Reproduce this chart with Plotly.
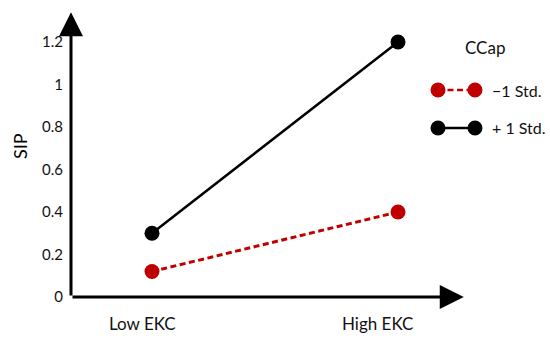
import plotly.graph_objects as go

categories = ["Low EKC", "High EKC"]
cat_pos = [1, 2]
minus_std = [0.12, 0.40]
plus_std = [0.30, 1.20]
series_names = ["\u22121 Std.", "+ 1 Std."]
y_ticks = [0, 0.2, 0.4, 0.6, 0.8, 1.0, 1.2]
y_ticklabels = ["0", "0.2", "0.4", "0.6", "0.8", "1", "1.2"]
legend_title = "CCap"
y_title = "SIP"

RED = "#C00000"
BLACK = "#000000"
FONT = "Lato, Open Sans, sans-serif"
DASH = "6px,3.5px"

W, H = 550, 343
L, R, T, B = 71, 85, 10, 46
pw, ph = W - L - R, H - T - B

def px(x):
    return (x - L) / pw

def py(y):
    return (H - B - y) / ph

fig = go.Figure()
fig.add_trace(go.Scatter(x=cat_pos, y=minus_std, mode="lines+markers", name=series_names[0],
                         line=dict(color=RED, width=3, dash=DASH),
                         marker=dict(color=RED, size=15), showlegend=False))
fig.add_trace(go.Scatter(x=cat_pos, y=plus_std, mode="lines+markers", name=series_names[1],
                         line=dict(color=BLACK, width=2.5),
                         marker=dict(color=BLACK, size=15), showlegend=False))

xr = [1 - 81 / 246, 2 + 67 / 246]
yr = [0, 287 / 212.5]

# axes with arrows
fig.add_annotation(x=xr[1] - 0.005, y=0, ax=xr[0], ay=0, xref="x", yref="y", axref="x", ayref="y",
                   showarrow=True, arrowhead=2, arrowsize=1.6, arrowwidth=3, arrowcolor=BLACK, text="")
fig.add_annotation(x=xr[0], y=yr[1] - 0.01, ax=xr[0], ay=0, xref="x", yref="y", axref="x", ayref="y",
                   showarrow=True, arrowhead=2, arrowsize=1.6, arrowwidth=3, arrowcolor=BLACK, text="")

# x category labels
for c, p, sh in zip(categories, cat_pos, [-10, -21]):
    fig.add_annotation(x=p, y=0, xref="x", yref="y", text=c, showarrow=False, xshift=sh, yshift=-26,
                       xanchor="center", yanchor="middle",
                       font=dict(family=FONT, size=17, color="#111"))

# y title
fig.add_annotation(x=px(20), y=py(146), xref="paper", yref="paper", text=y_title, textangle=-90,
                   xanchor="center", yanchor="middle",
                   showarrow=False, font=dict(family=FONT, size=18, color="#000"))

# custom legend
fig.add_annotation(x=px(485), y=py(47), xref="paper", yref="paper", text=legend_title, showarrow=False,
                   xanchor="center", yanchor="middle",
                   font=dict(family=FONT, size=17, color="#111"))
for name, color, dash, yy in [(series_names[0], RED, DASH, 90), (series_names[1], BLACK, "solid", 128)]:
    fig.add_shape(type="line", xref="paper", yref="paper", x0=px(438), x1=px(475), y0=py(yy), y1=py(yy),
                  line=dict(color=color, width=2.5, dash=dash))
    for cx in (438, 475):
        fig.add_shape(type="circle", xref="paper", yref="paper", x0=px(cx - 7.5), x1=px(cx + 7.5),
                      y0=py(yy + 7.5), y1=py(yy - 7.5), fillcolor=color, line=dict(color=color, width=0))
    fig.add_annotation(x=px(490), y=py(yy), xref="paper", yref="paper", text=name, showarrow=False,
                       xanchor="left", yanchor="middle", font=dict(family=FONT, size=16, color="#111"))

fig.update_xaxes(range=xr, showgrid=False, zeroline=False, showline=False, showticklabels=False)
fig.update_yaxes(range=yr, showgrid=False, zeroline=False, showline=False, tickvals=y_ticks,
                 ticktext=y_ticklabels, ticks="", ticklabelstandoff=7,
                 tickfont=dict(family=FONT, size=15, color="#111"))

fig.update_layout(width=W, height=H, margin=dict(l=L, r=R, t=T, b=B),
                  paper_bgcolor="white", plot_bgcolor="white", showlegend=False)
fig.write_html("out.html", post_script="document.body.style.margin='0';",
               config={"displayModeBar": False})
